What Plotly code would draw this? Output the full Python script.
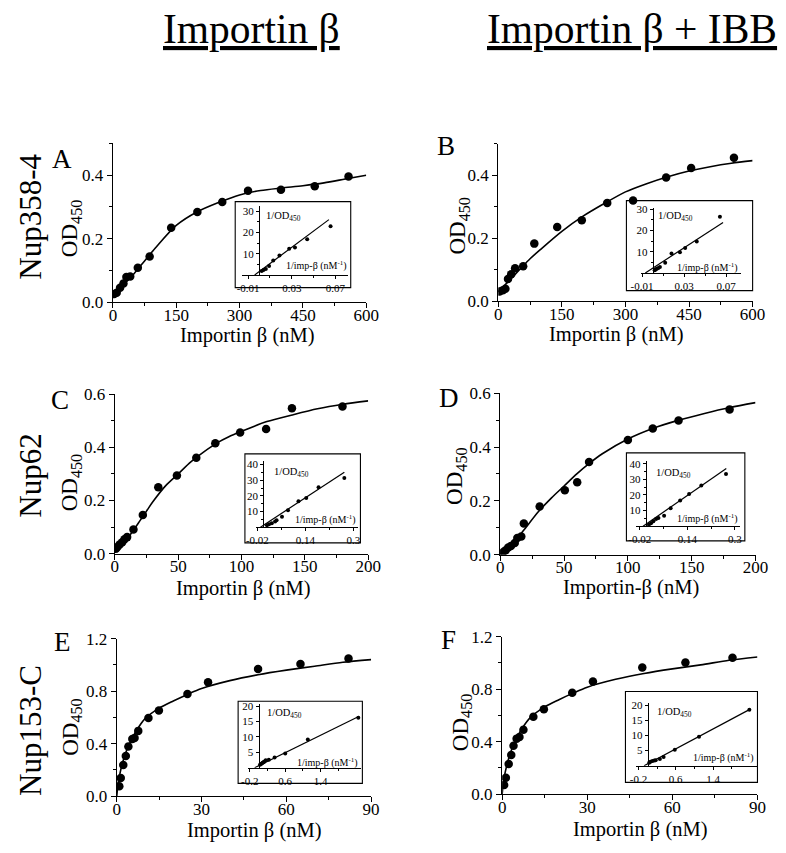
import plotly.graph_objects as go

W, H = 786, 853
FONT = "Liberation Serif"

# ---------------- data ----------------
# Panel A: Nup358-4, Importin beta
A_x = [3, 9, 17, 25, 32, 41, 59, 87, 138, 200, 259, 320, 398, 478, 558]
A_y = [0.026, 0.030, 0.046, 0.059, 0.080, 0.081, 0.109, 0.144, 0.235, 0.284, 0.316, 0.351, 0.354, 0.365, 0.396]
A_fit_x = [0, 25, 50, 75, 100, 150, 200, 250, 300, 350, 400, 450, 500, 550, 600]
A_fit_y = [0.02, 0.055, 0.09, 0.13, 0.17, 0.242, 0.285, 0.314, 0.338, 0.352, 0.36, 0.367, 0.376, 0.388, 0.40]
Ai_x = [0.0024, 0.0041, 0.0062, 0.0092, 0.013, 0.0187, 0.0276, 0.0329, 0.0441, 0.0655]
Ai_y = [1.8, 2.3, 2.8, 4.2, 6.8, 9.1, 12.3, 12.9, 16.8, 22.9]
Ai_line_x = [-0.004, 0.064]
Ai_line_y = [0, 26]

# Panel B: Nup358-4, Importin beta + IBB
B_x = [3, 10.7, 16.8, 22.9, 30.5, 39.6, 58.7, 85, 139, 197, 257, 318, 396, 455, 556]
B_y = [0.031, 0.035, 0.040, 0.071, 0.086, 0.105, 0.111, 0.183, 0.236, 0.257, 0.312, 0.320, 0.393, 0.423, 0.455]
B_fit_x = [0, 25, 50, 75, 100, 150, 200, 250, 300, 350, 400, 450, 500, 550, 600]
B_fit_y = [0.03, 0.065, 0.1, 0.135, 0.165, 0.222, 0.27, 0.31, 0.347, 0.373, 0.395, 0.413, 0.427, 0.438, 0.446]
Bi_x = [0.002, 0.003, 0.004, 0.0055, 0.007, 0.012, 0.018, 0.026, 0.031, 0.042, 0.064]
Bi_y = [1.3, 1.6, 2.0, 2.4, 2.8, 4.8, 9.2, 9.8, 11.8, 14.8, 26.5]
Bi_line_x = [-0.0069, 0.067]
Bi_line_y = [0, 23.8]

# Panel C: Nup62, Importin beta
C_x = [0.8, 2, 3.8, 5.8, 7.6, 9.7, 14.7, 22.1, 34.3, 49, 64.3, 79.3, 98.9, 119.4, 139.8, 179.7]
C_y = [0.018, 0.025, 0.034, 0.043, 0.054, 0.062, 0.091, 0.145, 0.25, 0.294, 0.361, 0.415, 0.456, 0.469, 0.547, 0.554]
C_fit_x = [0, 5, 10, 15, 20, 25, 30, 40, 50, 60, 70, 80, 90, 100, 120, 140, 160, 180, 200]
C_fit_y = [0.005, 0.03, 0.058, 0.09, 0.125, 0.16, 0.195, 0.255, 0.3, 0.345, 0.382, 0.415, 0.44, 0.46, 0.497, 0.522, 0.545, 0.562, 0.575]
Ci_x = [0.012, 0.019, 0.028, 0.039, 0.044, 0.062, 0.082, 0.117, 0.143, 0.184, 0.27]
Ci_y = [1.3, 1.9, 2.5, 3.6, 4.4, 6.7, 10.9, 16.6, 18.7, 25.5, 31.4]
Ci_line_x = [-0.0097, 0.27]
Ci_line_y = [0, 35.2]

# Panel D: Nup62, Importin beta + IBB
D_x = [1.3, 2.5, 4.3, 6.3, 8.4, 11.4, 13.4, 16.5, 18.5, 30.9, 50.6, 60.3, 69.6, 100, 119.5, 139.7, 179.7]
D_y = [0.004, 0.01, 0.016, 0.026, 0.032, 0.043, 0.062, 0.067, 0.116, 0.179, 0.239, 0.269, 0.344, 0.426, 0.469, 0.499, 0.54]
D_fit_x = [0, 5, 10, 15, 20, 30, 40, 50, 60, 70, 80, 100, 120, 140, 160, 180, 200]
D_fit_y = [0.0, 0.015, 0.04, 0.07, 0.1, 0.16, 0.21, 0.255, 0.3, 0.34, 0.375, 0.43, 0.47, 0.5, 0.525, 0.547, 0.565]
Di_x = [0.011, 0.018, 0.026, 0.035, 0.043, 0.062, 0.084, 0.116, 0.146, 0.187, 0.27]
Di_y = [1.0, 1.9, 3.1, 4.6, 5.2, 6.7, 11.5, 16.5, 20.6, 26.0, 33.3]
Di_line_x = [-0.0087, 0.271]
Di_line_y = [0, 36.9]

# Panel E: Nup153-C, Importin beta
E_x = [0.9, 1.4, 2.3, 3.2, 4.1, 5.5, 6.3, 7.6, 11.2, 14.9, 25, 32.3, 50, 65, 82]
E_y = [0.075, 0.137, 0.236, 0.306, 0.378, 0.435, 0.442, 0.497, 0.596, 0.653, 0.778, 0.867, 0.969, 1.006, 1.048]
E_fit_x = [0, 0.5, 1, 2, 3, 4, 5, 7, 10, 15, 20, 25, 30, 40, 50, 60, 70, 80, 90]
E_fit_y = [0.0, 0.1, 0.16, 0.25, 0.32, 0.375, 0.42, 0.5, 0.59, 0.67, 0.725, 0.775, 0.82, 0.88, 0.925, 0.96, 0.99, 1.02, 1.04]
Ei_x = [0.03, 0.05, 0.07, 0.09, 0.11, 0.13, 0.16, 0.23, 0.36, 0.6, 1.11, 2.25]
Ei_y = [1.0, 1.2, 1.4, 1.6, 1.8, 2.0, 2.4, 2.6, 3.3, 4.6, 9.2, 16.2]
Ei_line_x = [-0.09, 2.27]
Ei_line_y = [0, 16.7]

# Panel F: Nup153-C, Importin beta + IBB
F_x = [0.7, 1.3, 2.3, 3.2, 4.0, 5.1, 6.1, 7.5, 11.0, 14.7, 24.7, 32, 49.4, 64.6, 81.2]
F_y = [0.07, 0.124, 0.229, 0.299, 0.368, 0.423, 0.436, 0.49, 0.59, 0.647, 0.772, 0.859, 0.966, 1.003, 1.04]
F_fit_x = [0, 0.5, 1, 2, 3, 4, 5, 7, 10, 15, 20, 25, 30, 40, 50, 60, 70, 80, 90]
F_fit_y = [0.0, 0.1, 0.16, 0.25, 0.32, 0.375, 0.42, 0.5, 0.585, 0.665, 0.72, 0.77, 0.815, 0.875, 0.92, 0.955, 0.985, 1.02, 1.045]
Fi_x = [0.03, 0.06, 0.1, 0.14, 0.17, 0.26, 0.34, 0.58, 1.1, 2.18]
Fi_y = [1.0, 1.3, 1.6, 1.7, 1.8, 2.2, 2.9, 5.3, 9.6, 18.5]
Fi_line_x = [-0.08, 2.18]
Fi_line_y = [0, 18.5]

# tick labels
AB_xticks = [0, 150, 300, 450, 600]
CD_xticks = [0, 50, 100, 150, 200]
EF_xticks = [0, 30, 60, 90]
AB_yticks = [0.0, 0.2, 0.4]
CD_yticks = [0.0, 0.2, 0.4, 0.6]
EF_yticks = [0.0, 0.4, 0.8, 1.2]
ABi_xticks = [-0.01, 0.03, 0.07]
CDi_xticks = [-0.02, 0.14, 0.3]
EFi_xticks = [-0.2, 0.6, 1.4]
ABi_yticks = [10, 20, 30]
CDi_yticks = [10, 20, 30, 40]
EFi_yticks = [5, 10, 15, 20]

col_titles = ["Importin β", "Importin β + IBB"]
row_titles = ["Nup358-4", "Nup62", "Nup153-C"]
letters = ["A", "B", "C", "D", "E", "F"]
x_titles = ["Importin β (nM)", "Importin β (nM)", "Importin β (nM)", "Importin-β (nM)",
            "Importin β (nM)", "Importin β (nM)"]

# ---------------- layout helpers ----------------
def fx(px):
    return px / W

def fy(py):
    return 1 - py / H

fig = go.Figure()
layout = dict(width=W, height=H, margin=dict(l=0, r=0, t=0, b=0),
              paper_bgcolor="white", plot_bgcolor="white", showlegend=False)
annotations = []
shapes = []

def axis_common(size):
    return dict(showline=True, linecolor="black", linewidth=1.3, showgrid=False,
                zeroline=False, ticks="outside", tickcolor="black", tickwidth=1.1,
                tickfont=dict(family=FONT, size=size, color="black"))

main_specs = [
    (A_x, A_y, A_fit_x, A_fit_y, (106, 367), (300, 137.5), [0, 600], [0, 0.5], AB_xticks, AB_yticks, 75, 0.1),
    (B_x, B_y, B_fit_x, B_fit_y, (503, 765), (299, 137.7), [0, 600], [0, 0.5], AB_xticks, AB_yticks, 75, 0.1),
    (C_x, C_y, C_fit_x, C_fit_y, (108, 369), (557, 394), [0, 200], [0, 0.6], CD_xticks, CD_yticks, 25, 0.1),
    (D_x, D_y, D_fit_x, D_fit_y, (505, 768), (558, 393), [0, 200], [0, 0.6], CD_xticks, CD_yticks, 25, 0.1),
    (E_x, E_y, E_fit_x, E_fit_y, (110, 372), (805, 644), [0, 90], [0, 1.2], EF_xticks, EF_yticks, 15, 0.2),
    (F_x, F_y, F_fit_x, F_fit_y, (507, 770), (803, 642), [0, 90], [0, 1.2], EF_xticks, EF_yticks, 15, 0.2),
]

inset_specs = [
    (Ai_x, Ai_y, Ai_line_x, Ai_line_y, (239, 348), (272, 201.7), [-0.0156, 0.0813], [0, 32.3], 256.5,
     ABi_xticks, ABi_yticks, [0.01, 0.05], [5, 15, 25], (232, 351, 197, 285),
     (262, 212), (349, 262)),
    (Bi_x, Bi_y, Bi_line_x, Bi_line_y, (650, 753), (270, 203.8), [-0.011, 0.084], [0, 30.5], 662,
     ABi_xticks, ABi_yticks, [0.01, 0.05], [5, 15, 25], (635, 765, 196, 288),
     (665, 212), (752, 264)),
    (Ci_x, Ci_y, Ci_line_x, Ci_line_y, (253, 358), (530, 462.8), [-0.026, 0.314], [0, 42], 261,
     CDi_xticks, CDi_yticks, [0.06, 0.22], [5, 15, 25, 35], (242, 361, 455, 546),
     (270, 474), (358, 522)),
    (Di_x, Di_y, Di_line_x, Di_line_y, (645, 752), (529, 461.8), [-0.032, 0.317], [0, 42], 654.8,
     CDi_xticks, CDi_yticks, [0.06, 0.22], [5, 15, 25, 35], (635, 757, 454, 544),
     (663, 475), (752, 521)),
    (Ei_x, Ei_y, Ei_line_x, Ei_line_y, (245, 362), (776, 711.1), [-0.244, 2.32], [0, 20.6], 256.1,
     EFi_xticks, EFi_yticks, [0.2, 1.0, 1.8], [], (235, 363, 708, 792),
     (263, 721), (361, 771)),
    (Fi_x, Fi_y, Fi_line_x, Fi_line_y, (645, 769.8), (774, 710.1), [-0.25, 2.35], [0, 20.6], 657,
     EFi_xticks, EFi_yticks, [0.2, 1.0, 1.8], [], (634, 770, 698, 791),
     (664, 720), (768, 766)),
]

n = 0
for (xd, yd, fxd, fyd, xp, yp, xr, yr, xt, yt, xmin, ymin) in main_specs:
    n += 1
    xa = "xaxis" if n == 1 else f"xaxis{n}"
    ya = "yaxis" if n == 1 else f"yaxis{n}"
    xref = "x" if n == 1 else f"x{n}"
    yref = "y" if n == 1 else f"y{n}"
    fig.add_trace(go.Scatter(x=fxd, y=fyd, mode="lines", xaxis=xref, yaxis=yref,
                             line=dict(color="black", width=1.6, shape="spline", smoothing=0.8),
                             hoverinfo="skip"))
    fig.add_trace(go.Scatter(x=xd, y=yd, mode="markers", xaxis=xref, yaxis=yref,
                             marker=dict(color="black", size=8.5)))
    ax = axis_common(17)
    ax.update(domain=[fx(xp[0]), fx(xp[1])], range=xr, anchor=yref, tickvals=xt,
              ticktext=[str(v) for v in xt], ticklen=5, ticklabelstandoff=-8,
              minor=dict(ticks="outside", ticklen=3, tickcolor="black", dtick=xmin, tick0=0))
    ay = axis_common(17)
    ay.update(domain=[fy(yp[0]), fy(yp[1])], range=yr, anchor=xref, tickvals=yt,
              ticktext=[f"{v:.1f}" for v in yt], ticklen=5,
              minor=dict(ticks="outside", ticklen=3, tickcolor="black", dtick=ymin, tick0=0))
    layout[xa] = ax
    layout[ya] = ay

for (xd, yd, lx, ly, xp, yp, xr, yr, ypos, xt, yt, xmv, ymv, box, lab1, lab2) in inset_specs:
    n += 1
    xa, ya = f"xaxis{n}", f"yaxis{n}"
    xref, yref = f"x{n}", f"y{n}"
    fig.add_trace(go.Scatter(x=lx, y=ly, mode="lines", xaxis=xref, yaxis=yref,
                             line=dict(color="black", width=1.2), hoverinfo="skip"))
    fig.add_trace(go.Scatter(x=xd, y=yd, mode="markers", xaxis=xref, yaxis=yref,
                             marker=dict(color="black", size=4)))
    ax = axis_common(11)
    ax.update(domain=[fx(xp[0]), fx(xp[1])], range=xr, anchor=yref, tickvals=xt,
              ticktext=[f"{v:g}" for v in xt], ticklen=3, linewidth=1.1,
              minor=dict(ticks="outside", ticklen=2, tickcolor="black", tickvals=xmv))
    ay = axis_common(11)
    ay.update(domain=[fy(yp[0]), fy(yp[1])], range=yr, anchor="free", position=fx(ypos),
              tickvals=yt, ticktext=[str(v) for v in yt], ticklen=3, linewidth=1.1,
              minor=dict(ticks="outside", ticklen=2, tickcolor="black", tickvals=ymv))
    layout[xa] = ax
    layout[ya] = ay
    shapes.append(dict(type="rect", xref="paper", yref="paper",
                       x0=fx(box[0]), x1=fx(box[1]), y0=fy(box[3]), y1=fy(box[2]),
                       line=dict(color="black", width=1.1)))
    annotations.append(dict(text="1/OD<sub>450</sub>", x=fx(lab1[0]), y=fy(lab1[1]),
                            xref="paper", yref="paper", xanchor="left", yanchor="middle",
                            showarrow=False, font=dict(family=FONT, size=10.5, color="black")))
    annotations.append(dict(text="1/imp-β (nM<sup>-1</sup>)", x=fx(lab2[0]), y=fy(lab2[1]),
                            xref="paper", yref="paper", xanchor="right", yanchor="middle",
                            showarrow=False, font=dict(family=FONT, size=10, color="black")))

# column titles
for t, cx in zip(col_titles, [249, 641]):
    annotations.append(dict(text=f"<u>{t}</u>", x=fx(cx), y=fy(20), xref="paper", yref="paper",
                            xanchor="center", yanchor="middle", showarrow=False,
                            font=dict(family=FONT, size=41.5, color="black")))
# row titles
for t, cy in zip(row_titles, [212, 477, 738]):
    annotations.append(dict(text=t, x=fx(21), y=fy(cy), xref="paper", yref="paper",
                            xanchor="center", yanchor="middle", textangle=-90, showarrow=False,
                            font=dict(family=FONT, size=31, color="black")))
# panel letters
for t, (lx, ly) in zip(letters, [(54, 153), (449, 140), (52, 400), (452, 398), (54, 647), (452, 645)]):
    annotations.append(dict(text=t, x=fx(lx), y=fy(ly), xref="paper", yref="paper",
                            xanchor="center", yanchor="middle", showarrow=False,
                            font=dict(family=FONT, size=27, color="black")))
# x axis titles
for t, (tx, ty) in zip(x_titles, [(245, 334), (625, 333), (241, 593), (640, 592), (252, 840), (649, 839)]):
    annotations.append(dict(text=t, x=fx(tx), y=fy(ty), xref="paper", yref="paper",
                            xanchor="center", yanchor="middle", showarrow=False,
                            font=dict(family=FONT, size=20.5, color="black")))
# y axis titles
for (tx, ty) in [(63, 225), (463, 222), (63, 485), (460, 478), (63, 735), (465, 730)]:
    annotations.append(dict(text="OD<sub>450</sub>", x=fx(tx), y=fy(ty), xref="paper", yref="paper",
                            xanchor="center", yanchor="middle", textangle=-90, showarrow=False,
                            font=dict(family=FONT, size=23, color="black")))

layout["annotations"] = annotations
layout["shapes"] = shapes
fig.update_layout(**layout)
fig.write_html("out.html", config={"displayModeBar": False},
               post_script="document.body.style.margin='0px';document.body.style.overflow='hidden';")
